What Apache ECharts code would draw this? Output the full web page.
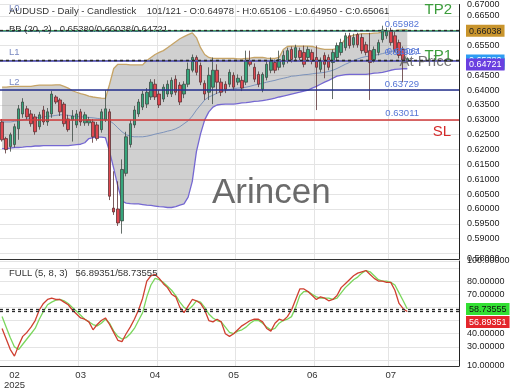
<!DOCTYPE html>
<html><head><meta charset="utf-8">
<script src="https://cdn.jsdelivr.net/npm/echarts@6/dist/echarts.min.js"></script>
<style>html,body{margin:0;padding:0;background:#fff}#c{width:520px;height:390px}</style>
</head><body><div id="c"></div>
<script>
const FONT = 'Liberation Sans, Arial, sans-serif';
const SLOTS = 111;
const categories = Array.from({length: SLOTS}, (_, i) => 'D' + (i + 1));
const monthTickIndex = [3, 19, 37, 56, 75, 94];
const monthTickText = ['02\n2025', '03', '04', '05', '06', '07'];
const monthGridIndex = [19, 38, 57, 76, 94];

const mainMin = 0.583167, mainMax = 0.668833;
const oscMin = 15.51, oscMax = 95.21;
const mainTickValues = [0.585,0.59,0.595,0.60,0.605,0.61,0.615,0.62,0.625,0.63,0.635,0.64,0.645,0.65,0.655,0.66,0.665];
const oscTickValues = [20,30,40,50,60,70,80,90];

const openP = [0.6293,0.6237,0.6210,0.6217,0.6270,0.6320,0.6337,0.6320,0.6310,0.6277,
0.6333,0.6293,0.6320,0.6377,0.6367,0.6353,0.6303,0.6300,0.6283,0.6327,
0.6290,0.6290,0.6293,0.6283,0.6267,0.6300,0.6327,0.6003,0.6000,0.5960,
0.6120,0.6217,0.6283,0.6320,0.6343,0.6353,0.6377,0.6420,0.6387,0.6370,
0.6387,0.6387,0.6437,0.6417,0.6387,0.6420,0.6467,0.6510,0.6483,0.6423,
0.6393,0.6410,0.6467,0.6427,0.6420,0.6420,0.6450,0.6427,0.6433,0.6427,
0.6500,0.6477,0.6453,0.6403,0.6443,0.6467,0.6493,0.6477,0.6487,0.6500,
0.6537,0.6510,0.6533,0.6527,0.6510,0.6527,0.6510,0.6470,0.6517,0.6510,
0.6493,0.6510,0.6527,0.6543,0.6583,0.6553,0.6587,0.6577,0.6553,0.6533,
0.6503,0.6527,0.6570,0.6583,0.6600,0.6583,0.6560,0.6537,0.64978];
const closeP = [0.6233,0.6200,0.6250,0.6277,0.6337,0.6360,0.6310,0.6287,0.6260,0.6317,
0.6293,0.6327,0.6387,0.6360,0.6327,0.6287,0.6267,0.6313,0.6320,0.6293,
0.6317,0.6300,0.6243,0.6237,0.6327,0.6337,0.6043,0.5990,0.5953,0.6133,
0.6243,0.6287,0.6333,0.6360,0.6387,0.6393,0.6427,0.6377,0.6350,0.6410,
0.6420,0.6433,0.6393,0.6360,0.6420,0.6470,0.6510,0.6460,0.6427,0.6387,
0.6450,0.6467,0.6427,0.6393,0.6403,0.6460,0.6410,0.6440,0.6407,0.6500,
0.6487,0.6437,0.6420,0.6453,0.6487,0.6500,0.6467,0.6503,0.6517,0.6533,
0.6503,0.6543,0.6510,0.6487,0.6537,0.6497,0.6477,0.6500,0.6487,0.6477,
0.6527,0.6550,0.6560,0.6583,0.6550,0.6577,0.6553,0.6533,0.6527,0.6493,
0.6537,0.6560,0.6603,0.6600,0.6560,0.6537,0.6517,0.6500,0.65061];
const highP = [0.6303,0.6243,0.6257,0.6287,0.6350,0.6373,0.6347,0.6333,0.6320,0.6327,
0.6347,0.6340,0.6397,0.6383,0.6373,0.6360,0.6317,0.6333,0.6333,0.6337,
0.6327,0.6310,0.6303,0.6293,0.6337,0.6400,0.6337,0.6127,0.6093,0.6167,
0.6260,0.6300,0.6347,0.6370,0.6397,0.6407,0.6437,0.6437,0.6400,0.6420,
0.6433,0.6443,0.6450,0.6427,0.6430,0.6493,0.6520,0.6517,0.6493,0.6433,
0.6477,0.6510,0.6487,0.6440,0.6430,0.6470,0.6460,0.6453,0.6447,0.6533,
0.6533,0.6490,0.6463,0.6460,0.6497,0.6510,0.6503,0.6533,0.6533,0.6543,
0.6547,0.6553,0.6543,0.6550,0.6547,0.6537,0.6550,0.6510,0.6527,0.6520,
0.6537,0.6560,0.6573,0.6593,0.6593,0.6590,0.6593,0.6590,0.6563,0.6593,
0.6547,0.6570,0.6617,0.6610,0.6610,0.6597,0.6570,0.6547,0.65106];
const lowP = [0.6227,0.6187,0.6193,0.6207,0.6233,0.6307,0.6300,0.6277,0.6250,0.6267,
0.6283,0.6280,0.6307,0.6353,0.6313,0.6277,0.6260,0.6227,0.6273,0.6280,
0.6280,0.6280,0.6223,0.6230,0.6257,0.6293,0.6030,0.5980,0.5943,0.5917,
0.6110,0.6207,0.6273,0.6310,0.6333,0.6340,0.6367,0.6367,0.6340,0.6360,
0.6377,0.6377,0.6383,0.6350,0.6373,0.6410,0.6460,0.6450,0.6417,0.6367,
0.6367,0.6353,0.6387,0.6380,0.6390,0.6410,0.6400,0.6417,0.6397,0.6417,
0.6480,0.6427,0.6410,0.6393,0.6433,0.6457,0.6457,0.6467,0.6477,0.6490,
0.6493,0.6500,0.6500,0.6477,0.6500,0.6487,0.6333,0.6460,0.6440,0.6467,
0.6370,0.6500,0.6517,0.6533,0.6540,0.6543,0.6543,0.6523,0.6517,0.6367,
0.6493,0.6517,0.6560,0.6573,0.6550,0.6527,0.6507,0.6427,0.64950];

const bbUpper = [0.6410,0.6410,0.6412,0.6413,0.6413,0.6413,0.6413,0.6413,0.6415,0.6417,
0.6417,0.6417,0.6417,0.6418,0.6418,0.6413,0.6407,0.6398,0.6393,0.6388,
0.6385,0.6380,0.6377,0.6375,0.6373,0.6372,0.6420,0.6473,0.6487,0.6487,
0.6487,0.6485,0.6485,0.6485,0.6485,0.6500,0.6510,0.6520,0.6527,0.6533,
0.6543,0.6553,0.6563,0.6573,0.6580,0.6587,0.6593,0.6577,0.6543,0.6520,
0.6510,0.6507,0.6507,0.6507,0.6507,0.6507,0.6507,0.6505,0.6505,0.6507,
0.6508,0.6510,0.6510,0.6510,0.6508,0.6507,0.6507,0.6510,0.6537,0.6547,
0.6548,0.6548,0.6548,0.6548,0.6548,0.6547,0.6543,0.6540,0.6537,0.6537,
0.6537,0.6540,0.6553,0.6573,0.6580,0.6585,0.6588,0.6590,0.6590,0.6590,
0.6592,0.6593,0.6595,0.6597,0.6599,0.6600,0.6602,0.6603,0.66038];
const bbMiddle = [0.6293,0.6293,0.6293,0.6295,0.6297,0.6300,0.6303,0.6305,0.6307,0.6308,
0.6310,0.6312,0.6313,0.6315,0.6317,0.6317,0.6315,0.6313,0.6312,0.6310,
0.6310,0.6308,0.6307,0.6305,0.6303,0.6303,0.6297,0.6287,0.6273,0.6260,
0.6250,0.6245,0.6243,0.6243,0.6243,0.6245,0.6248,0.6252,0.6255,0.6258,
0.6262,0.6265,0.6270,0.6277,0.6287,0.6297,0.6313,0.6333,0.6350,0.6367,
0.6377,0.6383,0.6390,0.6395,0.6398,0.6402,0.6405,0.6407,0.6408,0.6410,
0.6413,0.6417,0.6420,0.6423,0.6427,0.6430,0.6433,0.6437,0.6440,0.6443,
0.6447,0.6448,0.6450,0.6452,0.6453,0.6455,0.6457,0.6458,0.6460,0.6463,
0.6467,0.6473,0.6480,0.6487,0.6493,0.6500,0.6505,0.6510,0.6513,0.6515,
0.6517,0.6520,0.6523,0.6527,0.6530,0.6533,0.6535,0.6537,0.65380];
const bbLower = [0.6203,0.6203,0.6205,0.6207,0.6207,0.6208,0.6210,0.6210,0.6212,0.6212,
0.6213,0.6213,0.6213,0.6213,0.6213,0.6213,0.6213,0.6215,0.6217,0.6218,
0.6223,0.6237,0.6240,0.6242,0.6242,0.6240,0.6193,0.6137,0.6077,0.6027,
0.6020,0.6018,0.6017,0.6017,0.6015,0.6013,0.6012,0.6010,0.6008,0.6007,
0.6005,0.6005,0.6008,0.6013,0.6017,0.6040,0.6093,0.6193,0.6253,0.6300,
0.6327,0.6343,0.6350,0.6352,0.6353,0.6353,0.6353,0.6355,0.6357,0.6358,
0.6360,0.6362,0.6363,0.6365,0.6367,0.6370,0.6373,0.6377,0.6380,0.6383,
0.6387,0.6390,0.6393,0.6397,0.6400,0.6407,0.6413,0.6420,0.6427,0.6433,
0.6440,0.6447,0.6450,0.6452,0.6453,0.6453,0.6453,0.6453,0.6453,0.6455,
0.6457,0.6458,0.6460,0.6463,0.6467,0.6470,0.6471,0.6472,0.64721];

const stochK = [44,36,28,23,31,38,41,45,50,58,
63,66,67,66,66,64,62,58,55,52,
51,49,43,47,50,52,47,41,35,34,
40,45,51,58,67,80,84,85,82,78,
75,70,68,60,56,61,66,65,63,58,
50,49,51,49,40,38,40,43,46,48,
50,51,51,49,44,42,48,51,50,53,
58,66,74,74,72,69,66,68,67,65,
66,69,75,78,81,84,86,87,88,85,
82,80,80,79,79,73,63,59,56.89351];
const stochD = [53,45,37,30,28,32,36,40,44,51,
57,62,64,65.5,66,65,63,60,57,54,
51,49,47,46,48,51,48,42,38,36,
37,40,44,50,56,68,77,82,81,79,
76,73,69,64,60,58,61,65,64,60,
55,52,50,49,45,41,40,42,43,45,
48,50,50,48,45,43,44,48,50,51,
53,60,69,72,72,70,68,67,67,67,
66,67,71,75,78,81,83,86,88,87,
84,81,80,80,79,77,71,65,58.73555];

const levelNames = ['L0', 'TP2', 'TP1', 'L1', 'L1b', 'At Price', 'L2', 'SL'];
const levelValues = [0.65982, 0.6593, 0.6538, 0.64927, 0.64873, 0.64721, 0.63729, 0.63011];
const lv = n => levelValues[levelNames.indexOf(n)];

const last = openP.length - 1;
const f5 = v => v.toFixed(5);

function edgeFmt(v, step, edgeStep, dec, mid) {
  const r = v / step;
  if (Math.abs(r - Math.round(r)) < 1e-6) return (Math.round(r) * step).toFixed(dec);
  const e = v > mid ? Math.ceil(v / edgeStep - 1e-9) * edgeStep : Math.floor(v / edgeStep + 1e-9) * edgeStep;
  return e.toFixed(dec);
}

const NONE = {color: 'rgba(0,0,0,0)', width: 0};
const DASH = {type: [3, 3], color: '#2a2a2a', width: 1.3};
function boxLabel(text, bg, fg, shift) {
  return {show: true, position: 'end', distance: 7, formatter: '{b|' + text + '}',
    padding: [shift * 2, 0, 0, 0], opacity: 1,
    rich: {b: {backgroundColor: bg, color: fg, fontSize: 9, fontFamily: FONT, padding: [2, 3, 1, 3], lineHeight: 11}}};
}
function txt(text, pos, dist, color, size) {
  return {show: true, position: pos, distance: dist, formatter: text, color: color, fontSize: size, fontFamily: FONT, opacity: 1};
}
const BLUE_T = '#5676d6', LVL_T = '#7a8ac2', GREEN_T = '#3c9d3c';

const candleData = openP.map((o, i) => [o, closeP[i], lowP[i], highP[i]]);
const bandDiff = bbUpper.map((u, i) => u - bbLower[i]);

const header = 'AUDUSD - Daily - Candlestick    101/121 - O:' + f5(openP[last]) + ' - H:' + f5(highP[last]) +
  ' - L:' + f5(lowP[last]) + ' - C:' + f5(closeP[last]);
const bbText = 'BB (20, 2)   ' + f5(bbMiddle[last]) + '/' + f5(bbUpper[last]) + '/' + f5(bbLower[last]);
const fullText = 'FULL (5, 8, 3)   ' + f5(stochK[last]) + '/' + f5(stochD[last]);

const chart = echarts.init(document.getElementById('c'), null, {renderer: 'canvas'});
const mkXAxis = (gi, showLabel) => ({
  type: 'category', gridIndex: gi, data: categories, boundaryGap: true,
  axisLine: {show: true, lineStyle: {color: '#333', width: 1}},
  axisTick: {show: false},
  axisLabel: {show: showLabel, interval: (i) => monthTickIndex.includes(i), margin: 4,
    formatter: (v, i) => { const k = monthTickIndex.indexOf(i); return k >= 0 ? monthTickText[k] : ''; },
    fontSize: 9.5, color: '#333', fontFamily: FONT, lineHeight: 10},
  splitLine: {show: true, interval: (i) => monthGridIndex.includes(i), lineStyle: {color: '#e4e4e4', width: 1}}
});
const mkYAxis = (gi, mn, mx, step, edge, dec, mid, ticks) => ({
  type: 'value', gridIndex: gi, position: 'right', min: mn, max: mx, minInterval: step, maxInterval: step,
  splitNumber: Math.round((mx - mn) / step), showMinLabel: true, showMaxLabel: true,
  axisLine: {show: true, lineStyle: {color: '#222', width: 1}}, axisTick: {show: false},
  axisLabel: {margin: 8, fontSize: 9, color: '#222', fontFamily: FONT, hideOverlap: false,
    showMinLabel: true, showMaxLabel: true,
    customValues: [mn].concat(ticks, [mx]),
    formatter: v => edgeFmt(v, step, edge, dec, mid)},
  splitLine: {show: true, lineStyle: {color: '#e4e4e4', width: 1}}
});

const option = {
  animation: false,
  backgroundColor: '#fff',
  textStyle: {fontFamily: FONT},
  title: [
    {text: header, left: 9, top: 6, padding: 0, z: 10, textStyle: {fontSize: 9.5, fontWeight: 'normal', color: '#333', fontFamily: FONT}},
    {text: bbText, left: 9, top: 24, padding: 0, z: 1, textStyle: {fontSize: 9.5, fontWeight: 'normal', color: '#333', fontFamily: FONT}},
    {text: fullText, left: 9, top: 268, padding: 0, z: 10, textStyle: {fontSize: 9.5, fontWeight: 'normal', color: '#333', fontFamily: FONT}}
  ],
  grid: [
    {left: 0, right: 61, top: 2, height: 257},
    {left: 0, right: 61, top: 261, height: 107}
  ],
  xAxis: [mkXAxis(0, false), mkXAxis(1, true)],
  yAxis: [
    mkYAxis(0, mainMin, mainMax, 0.005, 0.01, 5, 0.62, mainTickValues),
    mkYAxis(1, oscMin, oscMax, 10, 10, 5, 50, oscTickValues)
  ],
  graphic: [{type: 'text', left: 212, top: 176, z: 100, silent: true,
    style: {text: 'Arincen', font: '35px Liberation Sans', fill: 'rgba(70,70,70,0.8)'}}],
  series: [
    {type: 'line', xAxisIndex: 0, yAxisIndex: 0, data: bbLower, stack: 'bb', symbol: 'none', silent: true,
      lineStyle: {opacity: 0}, z: 1},
    {type: 'line', xAxisIndex: 0, yAxisIndex: 0, data: bandDiff, stack: 'bb', symbol: 'none', silent: true,
      lineStyle: {opacity: 0}, areaStyle: {color: 'rgba(125,125,125,0.52)'}, z: 1},
    {type: 'line', name: 'upper', xAxisIndex: 0, yAxisIndex: 0, data: bbUpper, symbol: 'none', silent: true,
      lineStyle: {color: '#c6a467', width: 1.3}, z: 2,
      markLine: {symbol: ['none', 'none'], silent: true, animation: false,
        data: [{yAxis: bbUpper[last], lineStyle: DASH, label: boxLabel(f5(bbUpper[last]), '#c9952d', '#222', 0)}]}},
    {type: 'line', name: 'middle', xAxisIndex: 0, yAxisIndex: 0, data: bbMiddle, symbol: 'none', silent: true,
      lineStyle: {color: '#7d93bb', width: 1}, z: 2,
      markLine: {symbol: ['none', 'none'], silent: true, animation: false,
        data: [{yAxis: bbMiddle[last], lineStyle: DASH, label: boxLabel(f5(bbMiddle[last]), '#2e9cf2', '#fff', 0)}]}},
    {type: 'line', name: 'lower', xAxisIndex: 0, yAxisIndex: 0, data: bbLower, symbol: 'none', silent: true,
      lineStyle: {color: '#7568d2', width: 1.3}, z: 2,
      markLine: {symbol: ['none', 'none'], silent: true, animation: false,
        data: [{yAxis: bbLower[last], lineStyle: DASH, label: boxLabel(f5(bbLower[last]), '#6a3fe0', '#fff', 4)}]}},
    {type: 'candlestick', xAxisIndex: 0, yAxisIndex: 0, data: candleData, barWidth: 3, z: 3,
      itemStyle: {color: '#36a57b', color0: '#e0464f', borderColor: '#3d4a44', borderColor0: '#5a3436', borderWidth: 0.8},
      markLine: {symbol: ['none', 'none'], silent: true, animation: false, z: 4,
        data: [
          {yAxis: lv('L0'), lineStyle: {color: '#2d6b7d', width: 1.5, type: 'solid'}, label: txt('L0', 'insideStartTop', [9, 17], LVL_T, 9.5)},
          {yAxis: lv('L0'), lineStyle: NONE, label: txt(f5(lv('L0')), 'insideEndTop', [40, 1], BLUE_T, 9.5)},
          {yAxis: lv('TP2'), lineStyle: {color: '#4b9f63', width: 1, type: 'solid'}, label: txt('TP2', 'insideEndTop', [7, 13], GREEN_T, 15)},
          {yAxis: lv('TP1'), lineStyle: NONE, label: txt('TP1', 'insideEndTop', [7, -3], GREEN_T, 15)},
          {yAxis: lv('L1'), lineStyle: {color: '#4343b6', width: 1.5, type: 'solid'}, label: txt('L1', 'insideStartTop', [9, 3], LVL_T, 9.5)},
          {yAxis: lv('L1'), lineStyle: NONE, label: txt(f5(lv('L1')), 'insideEndTop', [40, 3], BLUE_T, 9.5)},
          {yAxis: lv('L1'), lineStyle: NONE, label: txt(f5(closeP[last]), 'insideEndTop', [38, 4], BLUE_T, 9.5)},
          {yAxis: lv('L1b'), lineStyle: {color: '#6565a6', width: 1, type: 'solid'}, label: {show: false}},
          {yAxis: lv('At Price'), lineStyle: NONE, label: txt('At Price', 'insideEndBottom', [7, -6], 'rgba(95,95,95,0.85)', 15)},
          {yAxis: lv('L2'), lineStyle: {color: '#25308f', width: 1.5, type: 'solid'}, label: txt('L2', 'insideStartTop', [9, 3], LVL_T, 9.5)},
          {yAxis: lv('L2'), lineStyle: NONE, label: txt(f5(lv('L2')), 'insideEndTop', [40, 1], BLUE_T, 9.5)},
          {yAxis: lv('SL'), lineStyle: {color: '#d23a3a', width: 1.5, type: 'solid'}, label: txt('SL', 'insideEndBottom', [8, 4], '#d42b2b', 15)},
          {yAxis: lv('SL'), lineStyle: NONE, label: txt(f5(lv('SL')), 'insideEndTop', [40, 1], BLUE_T, 9.5)},
          {yAxis: closeP[last], lineStyle: NONE, label: boxLabel(f5(closeP[last]), '#22aa88', '#fff', 3.3)}
        ]}},
    {type: 'line', xAxisIndex: 1, yAxisIndex: 1, data: stochD, symbol: 'none', silent: true,
      lineStyle: {color: '#7ad65c', width: 1.3}, z: 2,
      markLine: {symbol: ['none', 'none'], silent: true, animation: false,
        data: [{yAxis: stochD[last], lineStyle: DASH, label: boxLabel(f5(stochD[last]), '#33e033', '#111', 0)}]}},
    {type: 'line', xAxisIndex: 1, yAxisIndex: 1, data: stochK, symbol: 'none', silent: true,
      lineStyle: {color: '#cf3f30', width: 1.3}, z: 3,
      markLine: {symbol: ['none', 'none'], silent: true, animation: false,
        data: [{yAxis: stochK[last], lineStyle: DASH, label: boxLabel(f5(stochK[last]), '#e3262b', '#fff', 10.5)}]}}
  ]
};
chart.setOption(option);
</script></body></html>
